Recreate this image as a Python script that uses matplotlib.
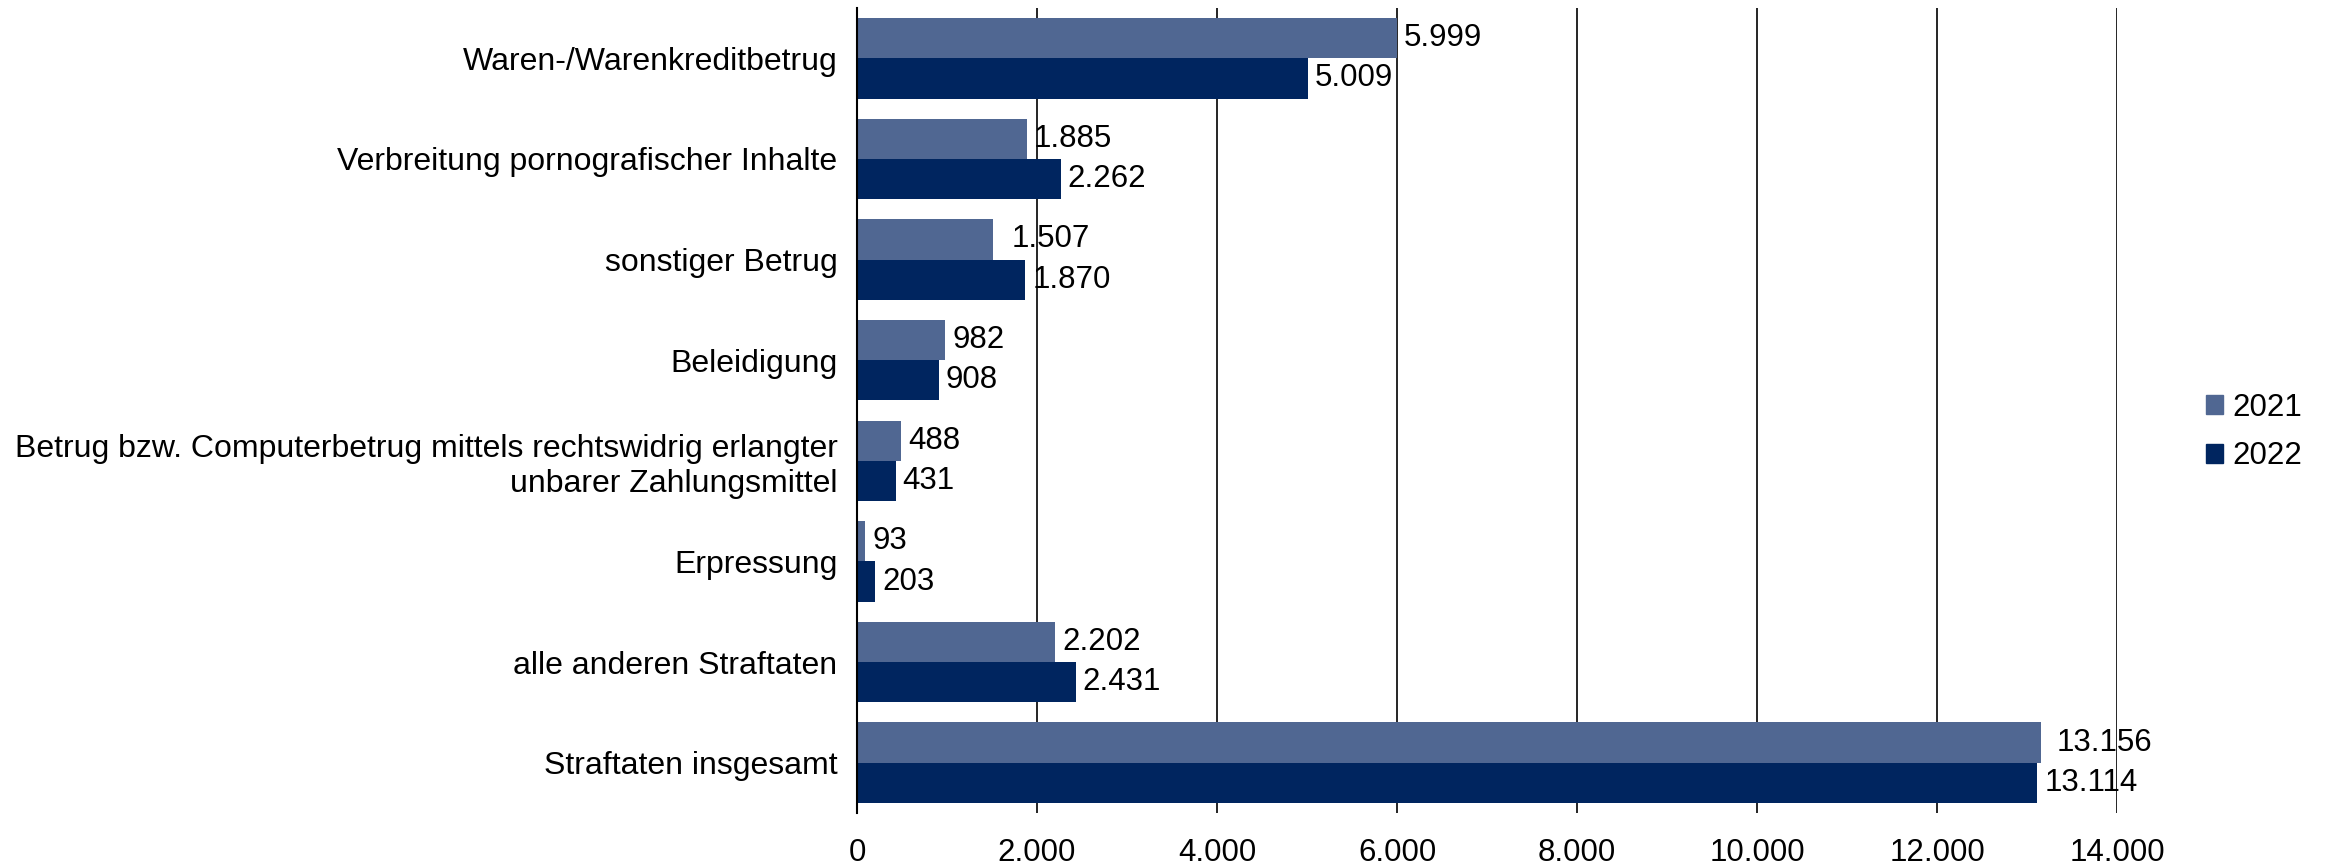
import matplotlib
matplotlib.use("Agg")
import matplotlib.pyplot as plt
from matplotlib.patches import Patch
from matplotlib.ticker import FuncFormatter

categories = [
    "Waren-/Warenkreditbetrug",
    "Verbreitung pornografischer Inhalte",
    "sonstiger Betrug",
    "Beleidigung",
    "Betrug bzw. Computerbetrug mittels rechtswidrig erlangter\nunbarer Zahlungsmittel",
    "Erpressung",
    "alle anderen Straftaten",
    "Straftaten insgesamt",
]
values_2021 = [5999, 1885, 1507, 982, 488, 93, 2202, 13156]
values_2022 = [5009, 2262, 1870, 908, 431, 203, 2431, 13114]
series_labels = ["2021", "2022"]
x_ticks = [0, 2000, 4000, 6000, 8000, 10000, 12000, 14000]

c2021 = "#506792"
c2022 = "#00255F"
fs = 22.5
fs_cat = 23

# extra horizontal nudge (points) of a few value labels, as in the original layout
label_nudge_2021 = {2: 8.5, 7: 6.0}

plt.rcParams["font.family"] = ["Liberation Sans", "DejaVu Sans"]

fig = plt.figure(figsize=(23.28, 8.67), dpi=100)
ax = fig.add_axes([857 / 2328, (867 - 813) / 867, (2117 - 857) / 2328, (813 - 8) / 867])

def fmt(v):
    return f"{v:,.0f}".replace(",", ".")

h = 0.40
ypos = list(range(len(categories)))
b1 = ax.barh([y - h / 2 for y in ypos], values_2021, height=h, color=c2021, zorder=3)
b2 = ax.barh([y + h / 2 for y in ypos], values_2022, height=h, color=c2022, zorder=3)

for k, (bars, vals) in enumerate(((b1, values_2021), (b2, values_2022))):
    for i, (bar, v) in enumerate(zip(bars, vals)):
        dx = 5 + (label_nudge_2021.get(i, 0) if k == 0 else 0)
        ax.annotate(fmt(v), (bar.get_width(), bar.get_y() + bar.get_height() / 2),
                    xytext=(dx, 0), textcoords="offset points",
                    ha="left", va="center", fontsize=fs, color="black", zorder=4)

ax.set_xlim(0, 14000)
ax.set_ylim(len(categories) - 0.5, -0.5)
ax.set_xticks(x_ticks)
ax.xaxis.set_major_formatter(FuncFormatter(lambda v, p: fmt(v)))
ax.set_yticks(ypos)
ax.set_yticklabels(categories, fontsize=fs_cat, ha="right", linespacing=1.2)
ax.tick_params(axis="y", length=0, pad=14)
ax.tick_params(axis="x", length=0, labelsize=fs, pad=18)
ax.xaxis.grid(True, color="black", linewidth=1.2, zorder=0)
ax.set_axisbelow(True)
for s in ("top", "right", "bottom"):
    ax.spines[s].set_visible(False)
ax.spines["left"].set_color("black")
ax.spines["left"].set_linewidth(1.5)
ax.spines["left"].set_zorder(5)

handles = [Patch(color=c2021, label=series_labels[0]), Patch(color=c2022, label=series_labels[1])]
fig.legend(handles=handles, loc="center left", bbox_to_anchor=(2206 / 2328, 1 - 432 / 867),
           frameon=False, fontsize=fs, handlelength=0.55, handleheight=0.55,
           handletextpad=0.3, labelspacing=0.6, borderpad=0, borderaxespad=0)

fig.savefig("out.png", dpi=100, facecolor="white")
